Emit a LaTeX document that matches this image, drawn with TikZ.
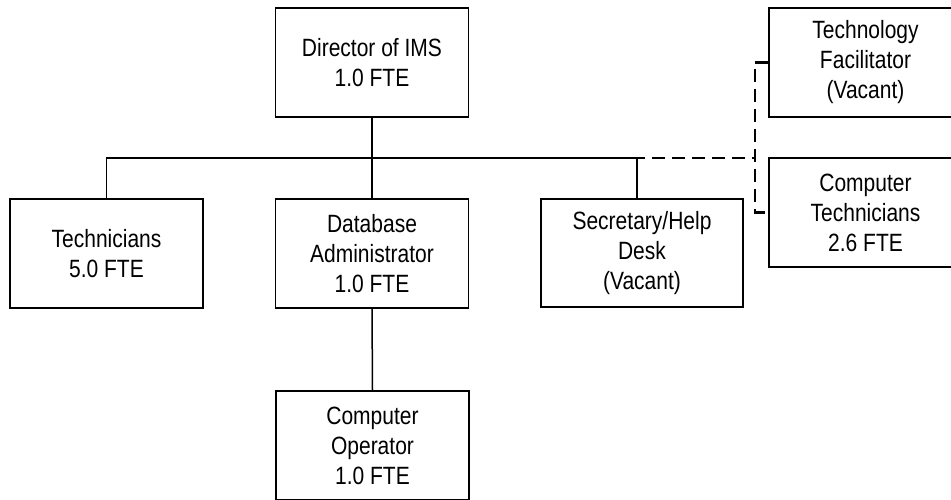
\documentclass[tikz,border=0pt]{standalone}
\usepackage{fontspec}
\setmainfont{Liberation Sans}[FakeStretch=0.84]
\begin{document}
\begin{tikzpicture}[x=1pt,y=-1pt,
  box/.style={draw=black,line width=1.5pt,rectangle,minimum width=193pt,minimum height=109pt,
    align=center,inner sep=0pt,font=\fontsize{25}{30}\selectfont},
  conn/.style={draw=black,line width=1.5pt},
  boldconn/.style={draw=black,line width=2.5pt},
  dashconn/.style={draw=black,line width=2.5pt,dash pattern=on 13pt off 7pt}]
\useasboundingbox (0,0) rectangle (951,500);
\fill[white] (0,0) rectangle (951,500);
\node[box] (dir) at (372,62.5) {Director of IMS\\1.0 FTE};
\node[box] (tech) at (106.5,253.5) {Technicians\\5.0 FTE};
\node[box] (db) at (372,253.5) {Database\\Administrator\\1.0 FTE};
\node[box,minimum width=202pt,minimum height=108pt] (sec) at (642,253) {Secretary/Help\\Desk\\(Vacant)};
\node[box] (tf) at (865.5,62.5) {Technology\\Facilitator\\(Vacant)};
\node[box] (ct) at (865.5,212.5) {Computer\\Technicians\\2.6 FTE};
\node[box] (op) at (372.5,445.5) {Computer\\Operator\\1.0 FTE};
\coordinate (busy) at (0,158);
\coordinate (secx) at (637,0);
\coordinate (dashx) at (755,0);
\draw[conn] (tech.north) -- (tech.north |- busy) -- (secx |- busy) -- (secx |- sec.north);
\draw[conn] (db.north) -- (db.north |- busy);
\draw[conn] (db.south) -- (op.north);
\draw[boldconn] (dir.south) -- (dir.south |- busy);
\draw[dashconn] (dir.south |- busy) -- (dashx |- busy);
\draw[dashconn] (tf.west) -- (dashx |- tf.west) -- (dashx |- ct.west) -- (ct.west);
\end{tikzpicture}
\end{document}
